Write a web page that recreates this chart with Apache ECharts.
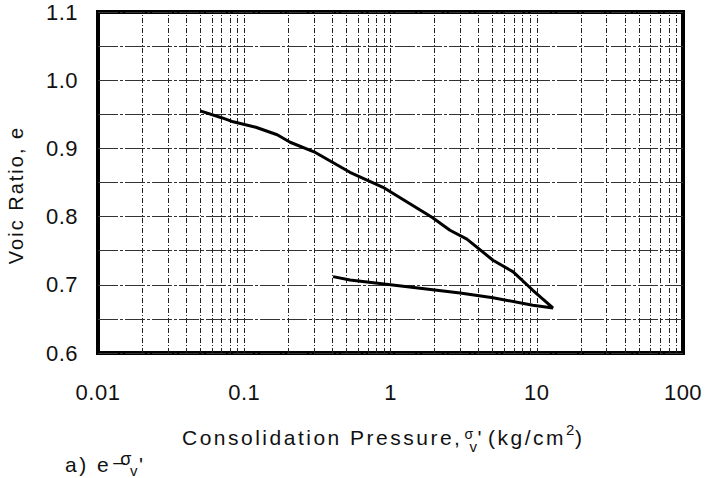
<!DOCTYPE html>
<html>
<head>
<meta charset="utf-8">
<script src="https://cdn.jsdelivr.net/npm/echarts@6/dist/echarts.min.js"></script>
<style>
  html, body { margin: 0; padding: 0; background: #fff; }
  #chart { width: 708px; height: 478px; }
  /* the printed lettering is set fairly loose */
  #chart text { letter-spacing: 0.5px; }
  #chart text[style*="21px"] { letter-spacing: 2.5px; }
  #chart text[style*="20px"] { letter-spacing: 2px; }
</style>
</head>
<body>
<div id="chart"></div>
<script>
// Consolidation curve: pressure (kg/cm2) vs void ratio, loading then unloading
const pressure = [0.05, 0.07, 0.084, 0.12, 0.168, 0.206, 0.3, 0.528, 0.889, 1.92, 2.55, 3.33, 5.02, 6.9, 9.4, 12.9,
                  9.4, 5.02, 2.99, 1.0, 0.528, 0.405];
const voidRatio = [0.955, 0.945, 0.939, 0.931, 0.920, 0.909, 0.895, 0.865, 0.843, 0.799, 0.780, 0.767, 0.736, 0.719, 0.692, 0.666,
                   0.670, 0.681, 0.688, 0.700, 0.707, 0.712];
const xTicks = [0.01, 0.1, 1, 10, 100];
const yTicks = [0.6, 0.7, 0.8, 0.9, 1.0, 1.1];

// vertical grid lines at every 1..9 multiple of each decade
const decadeLines = [];
for (let d = 0; d < xTicks.length - 1; d++) {
  for (let m = 1; m <= 9; m++) {
    if (d === 0 && m === 1) continue;
    decadeLines.push(+(xTicks[d] * m).toPrecision(3));
  }
}

const font = 'Liberation Sans, Arial, sans-serif';
const ink = '#111';

// Lay out a run of differently sized pieces (sub/superscripts) one after another.
const measureCtx = document.createElement('canvas').getContext('2d');
function textRun(x0, yMid, pieces) {
  let x = x0;
  return pieces.map(p => {
    measureCtx.font = p.size + 'px ' + font;
    const spacing = p.size === 21 ? 2.5 : 0.5;
    const w = measureCtx.measureText(p.text).width + spacing * p.text.length;
    const el = {
      type: 'text', x: x + (p.dx || 0), y: yMid + (p.dy || 0),
      style: { text: p.text, fill: ink, fontSize: p.size, fontFamily: font, align: 'left', verticalAlign: 'middle' }
    };
    x += w + (p.dx || 0) + (p.gap || 0);
    return el;
  });
}

const chart = echarts.init(document.getElementById('chart'), null, { renderer: 'svg' });

chart.setOption({
  animation: false,
  backgroundColor: '#fff',
  grid: {
    left: 98, top: 12, right: 25, bottom: 125,
    show: true, borderColor: '#000', borderWidth: 4, backgroundColor: 'transparent'
  },
  xAxis: {
    type: 'log', logBase: 10, min: xTicks[0], max: xTicks[xTicks.length - 1],
    axisLine: { show: false }, axisTick: { show: false }, splitLine: { show: false },
    axisLabel: {
      margin: 28, color: ink, fontSize: 22, fontFamily: font,
      formatter: v => xTicks.find(t => Math.abs(Math.log10(t) - Math.log10(v)) < 1e-6) !== undefined ? String(v) : ''
    }
  },
  yAxis: {
    type: 'value', min: 0.6, max: 1.1, interval: 0.05,
    axisLine: { show: false }, axisTick: { show: false },
    splitLine: { show: true, lineStyle: { color: '#333', width: 1, type: [20, 2, 3, 2] } },
    axisLabel: {
      margin: 20, color: ink, fontSize: 22, fontFamily: font,
      formatter: v => {
        const t = yTicks.find(y => Math.abs(y - v) < 1e-6);
        return t !== undefined ? t.toFixed(1) : '';
      }
    }
  },
  series: [{
    type: 'line',
    data: pressure.map((p, i) => [p, voidRatio[i]]),
    showSymbol: false,
    lineStyle: { color: '#000', width: 3 },
    z: 5,
    markLine: {
      silent: true, symbol: 'none', label: { show: false },
      lineStyle: { color: '#222', width: 1, type: [5, 2, 1, 2] },
      data: decadeLines.map(x => ({ xAxis: x }))
    }
  }],
  graphic: [
    {
      type: 'text', x: 16, y: 195, rotation: Math.PI / 2,
      style: {
        text: 'Voic Ratio, e', fill: ink, fontSize: 20, fontFamily: font,
        align: 'center', verticalAlign: 'middle'
      }
    },
    ...textRun(182, 437.5, [
      { text: 'Consolidation Pressure,', size: 21, gap: 2 },
      { text: 'σ', size: 14, dy: -4 },
      { text: 'v', size: 15, dy: 9, dx: -4 },
      { text: '\'', size: 21, gap: 4 },
      { text: '(kg/cm', size: 21 },
      { text: '2', size: 15, dy: -8 },
      { text: ')', size: 21 }
    ]),
    ...textRun(65, 464, [
      { text: 'a) e', size: 21, gap: 2 },
      { text: '–', size: 21, dy: -3, gap: -7 },
      { text: 'σ', size: 18, dy: -5 },
      { text: 'v', size: 15, dy: 6, dx: -2, gap: 1 },
      { text: '\'', size: 21 }
    ])
  ]
});
</script>
</body>
</html>
